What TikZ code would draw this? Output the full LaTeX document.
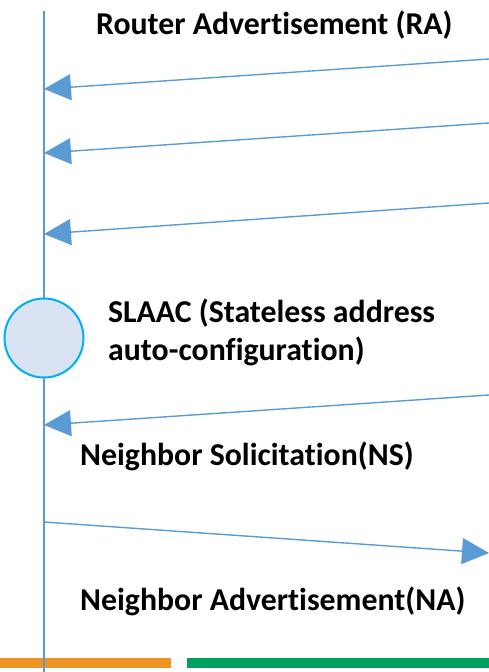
\documentclass[tikz,border=0pt]{standalone}
\usepackage{fontspec}
\setmainfont{Carlito}[Ligatures=NoCommon]
\usetikzlibrary{arrows.meta}
\definecolor{lineblue}{HTML}{5B9BD5}
\definecolor{slaacfill}{HTML}{DAE3F3}
\definecolor{slaacdraw}{HTML}{00B0F0}
\definecolor{barorange}{HTML}{ED9424}
\definecolor{bargreen}{HTML}{00A060}

\begin{document}
\begin{tikzpicture}[x=1pt, y=-1pt,
    msg/.style={draw=lineblue, line width=1.4pt, -{Triangle[length=27pt, width=26pt, fill=lineblue]}},
    lbl/.style={anchor=base west, inner sep=0pt, align=left,
      font=\fontsize{31.8}{37.5}\selectfont\bfseries}]
  \useasboundingbox (0,0) rectangle (489,672);
  % bars at the bottom
  \fill[barorange] (0,658) rectangle (171,668);
  \fill[bargreen] (187,658) rectangle (489,668);
  % host lifeline
  \coordinate (top) at (44,11);
  \coordinate (bot) at (44,672);
  \draw[lineblue, line width=2.2pt] (top) -- (bot);
  % end points of the messages
  \coordinate (ra1s) at (489,59);  \coordinate (ra1e) at (44,89);
  \coordinate (ra2s) at (489,123); \coordinate (ra2e) at (44,153);
  \coordinate (ra3s) at (489,203); \coordinate (ra3e) at (44,234);
  \coordinate (nss) at (489,395);  \coordinate (nse) at (44,425);
  \coordinate (nas) at (44,522);   \coordinate (nae) at (489,553);
  \draw[msg] (ra1s) -- (ra1e);
  \draw[msg] (ra2s) -- (ra2e);
  \draw[msg] (ra3s) -- (ra3e);
  \draw[msg] (nss) -- (nse);
  \draw[msg] (nas) -- (nae);
  % SLAAC step
  \node[circle, draw=slaacdraw, fill=slaacfill, line width=2pt, minimum size=79pt, inner sep=0pt] (slaac) at (44,338) {};
  % labels
  \node[lbl] (ralbl) at (96,34) {Router Advertisement (RA)};
  \node[lbl] (slaaclbl) at (108,360) {SLAAC (Stateless address\\auto-configuration)};
  \node[lbl] (nslbl) at (80,465) {Neighbor Solicitation(NS)};
  \node[lbl] (nalbl) at (80,610) {Neighbor Advertisement(NA)};
\end{tikzpicture}
\end{document}
